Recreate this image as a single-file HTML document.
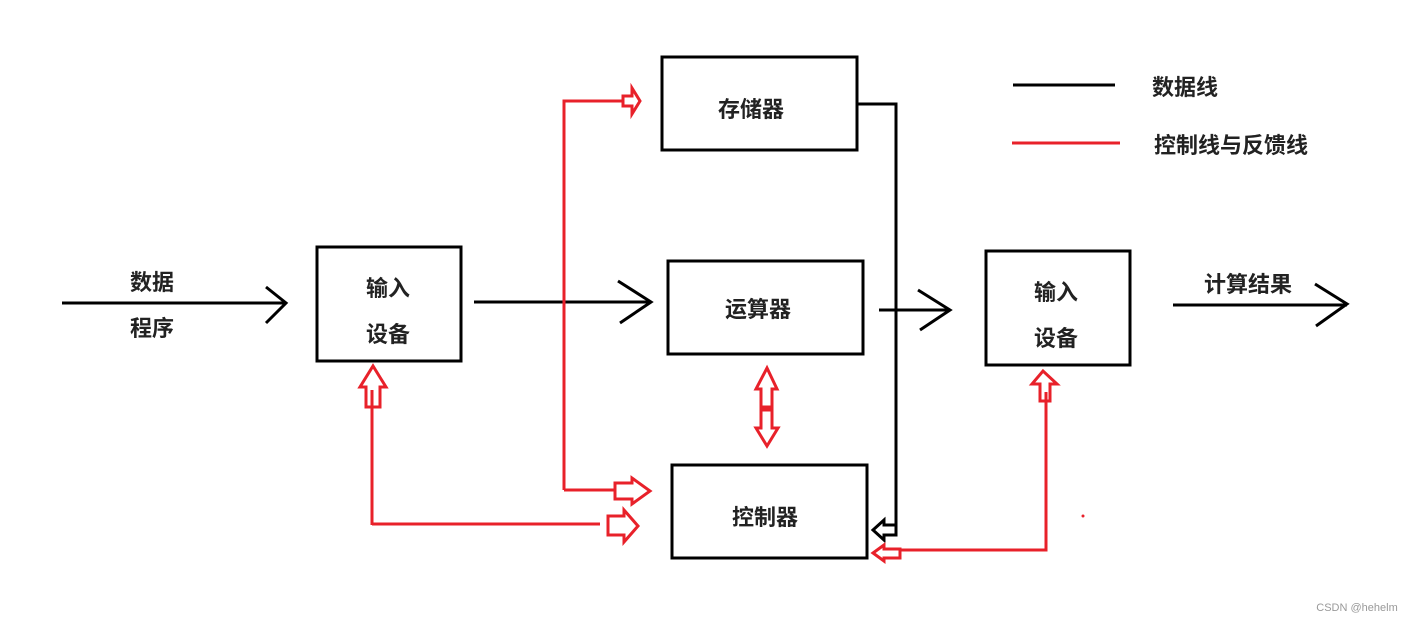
<!DOCTYPE html>
<html><head><meta charset="utf-8"><style>
html,body{margin:0;padding:0;background:#fff;}
svg{display:block}
text{font-family:"Liberation Sans","Noto Sans CJK SC",sans-serif;font-weight:bold;fill:#222;font-size:22px;text-anchor:middle}
</style></head><body>
<svg width="1412" height="622" viewBox="0 0 1412 622" xmlns="http://www.w3.org/2000/svg">
<g fill="none" stroke="#000" stroke-width="3">
<rect x="317" y="247" width="144" height="114"/>
<rect x="662" y="57" width="195" height="93"/>
<rect x="668" y="261" width="195" height="93"/>
<rect x="672" y="465" width="195" height="93"/>
<rect x="986" y="251" width="144" height="114"/>
<!-- data lines -->
<path d="M62 303H286M266 287L286 303L266 323"/>
<path d="M474 302H651M618 281L651 302L620 323"/>
<path d="M879 310H950M918 290L950 310L920 330"/>
<path d="M1173 305H1347M1315 284L1347 304L1316 326"/>
<path d="M858 104H896V530"/>
<path d="M1013 85H1115"/>
</g>
<polygon points="873,530 884,520 884,525 896,525 896,535 884,535 884,540" fill="#fff" stroke="#000" stroke-width="3"/>
<g fill="none" stroke="#e8212a" stroke-width="3">
<path d="M564 490V101H623"/>
<path d="M564 490H615"/>
<path d="M372 525V390"/>
<path d="M372 524H600"/>
<path d="M1046 392V550H900"/>
<path d="M1012 143H1120"/>
<!-- hollow arrows -->
<polygon points="623,96 632,96 632,88 640,101 632,114 632,106 623,106"/>
<polygon points="615,483 632,483 632,478 650,491 632,504 632,499 615,499"/>
<polygon points="608,516 624,516 624,510 638,526 624,542 624,535 608,535"/>
<polygon points="366,407 366,387 360,387 373,366 386,387 380,387 380,407"/>
<polygon points="1040,401 1040,384 1032,384 1043,371 1057,384 1050,384 1050,401"/>
<polygon points="761,407 761,389 756,389 767,368 777,389 772,389 772,407"/>
<polygon points="761,410 772,410 772,428 778,428 767,446 756,428 761,428"/>
<polygon points="873,553 884,545 884,549 900,549 900,558 884,558 884,561"/>
</g>
<circle cx="1083" cy="516" r="1.5" fill="#e8212a"/>
<text x="152" y="290">数据</text>
<text x="152" y="336">程序</text>
<text x="388" y="296">输入</text>
<text x="388" y="342">设备</text>
<text x="751" y="117">存储器</text>
<text x="758" y="317">运算器</text>
<text x="765" y="525">控制器</text>
<text x="1056" y="300">输入</text>
<text x="1056" y="346">设备</text>
<text x="1248" y="292">计算结果</text>
<text x="1185" y="95">数据线</text>
<text x="1231" y="153">控制线与反馈线</text>
<text x="1357" y="611" style="font-size:11px;font-weight:normal;fill:#999">CSDN @hehelm</text>
</svg>
</body></html>
